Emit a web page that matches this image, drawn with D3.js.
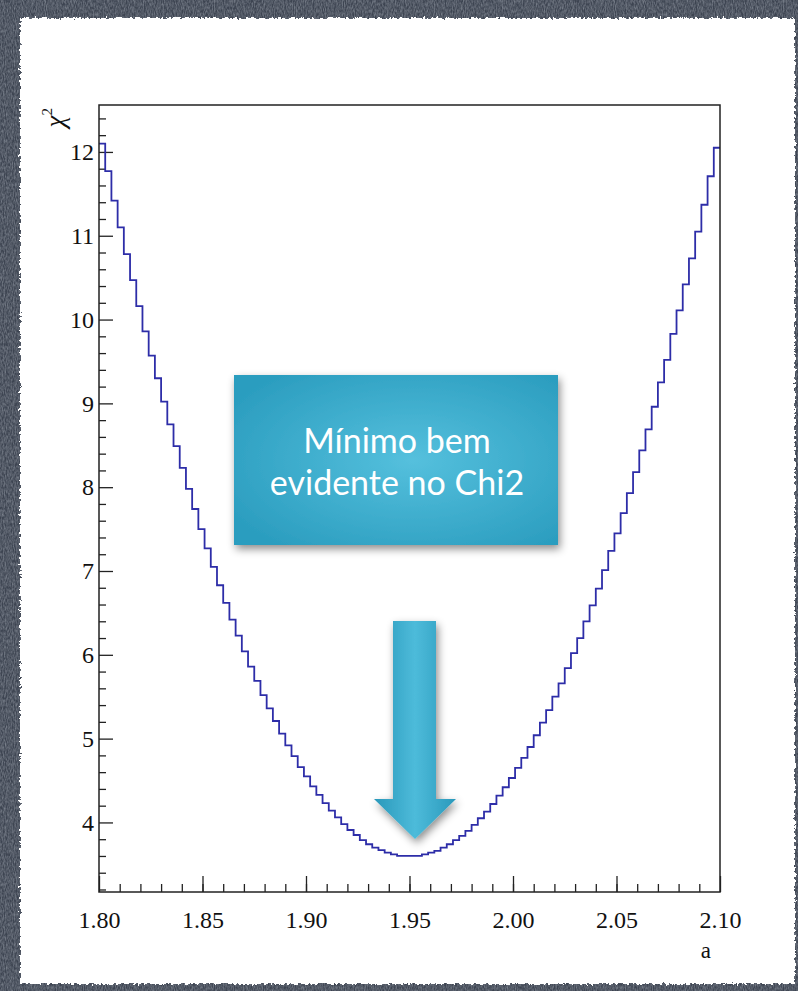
<!DOCTYPE html>
<html>
<head>
<meta charset="UTF-8">
<title>Chi2 vs a</title>
<script src="https://d3js.org/d3.v7.min.js"></script>
<style>
  body { margin: 0; background: #3e4552; }
  svg { display: block; }
</style>
</head>
<body>
<svg id="chart" width="798" height="991"></svg>
<script>
// histogram range and contents (100 bins)
var aRange = [1.80, 2.10];
var chiRange = [3.17, 12.56];
var chi2Values = [
  12.10, 11.77, 11.42, 11.10, 10.78, 10.47, 10.16, 9.86, 9.57, 9.30,
  9.02, 8.75, 8.49, 8.23, 7.98, 7.74, 7.50, 7.27, 7.05, 6.83,
  6.62, 6.42, 6.23, 6.04, 5.86, 5.69, 5.52, 5.36, 5.21, 5.06,
  4.92, 4.79, 4.66, 4.55, 4.43, 4.33, 4.23, 4.14, 4.06, 3.98,
  3.91, 3.85, 3.79, 3.74, 3.70, 3.67, 3.64, 3.62, 3.60, 3.60,
  3.60, 3.60, 3.62, 3.64, 3.66, 3.70, 3.74, 3.79, 3.84, 3.90,
  3.97, 4.05, 4.13, 4.22, 4.32, 4.42, 4.53, 4.65, 4.77, 4.90,
  5.04, 5.19, 5.34, 5.50, 5.66, 5.84, 6.02, 6.20, 6.40, 6.59,
  6.79, 7.01, 7.24, 7.45, 7.69, 7.93, 8.18, 8.44, 8.69, 8.96,
  9.25, 9.52, 9.83, 10.11, 10.42, 10.73, 11.05, 11.37, 11.71, 12.05
];
var xTicks = [1.80, 1.85, 1.90, 1.95, 2.00, 2.05, 2.10];
var yTicks = [4, 5, 6, 7, 8, 9, 10, 11, 12];
var xTitle = "a";
var noteLines = ["Mínimo bem", "evidente no Chi2"];

var svg = d3.select("#chart");
var width = 798, height = 991;
var frame = { left: 99, right: 720, top: 105, bottom: 892 };

var defs = svg.append("defs");

// slate background texture
var grain = defs.append("filter").attr("id", "grain").attr("x", 0).attr("y", 0).attr("width", 1).attr("height", 1);
grain.append("feTurbulence").attr("type", "fractalNoise").attr("baseFrequency", "0.9 0.3").attr("numOctaves", 2).attr("seed", 4).attr("result", "n");
grain.append("feColorMatrix").attr("in", "n").attr("type", "matrix")
  .attr("values", "0 0 0 0 0.30  0 0 0 0 0.33  0 0 0 0 0.38  0 0 0 1.1 -0.3");
grain.append("feComposite").attr("in2", "SourceGraphic").attr("operator", "in");

// ragged paper edge
var rough = defs.append("filter").attr("id", "rough").attr("x", -0.05).attr("y", -0.05).attr("width", 1.1).attr("height", 1.1);
rough.append("feTurbulence").attr("type", "fractalNoise").attr("baseFrequency", 0.35).attr("numOctaves", 2).attr("seed", 7).attr("result", "t");
rough.append("feDisplacementMap").attr("in", "SourceGraphic").attr("in2", "t").attr("scale", 6)
  .attr("xChannelSelector", "R").attr("yChannelSelector", "G");

var shadow = defs.append("filter").attr("id", "shadow").attr("x", -0.2).attr("y", -0.2).attr("width", 1.4).attr("height", 1.4);
shadow.append("feDropShadow").attr("dx", 2).attr("dy", 4).attr("stdDeviation", 4)
  .attr("flood-color", "#000").attr("flood-opacity", 0.45);

var boxGrad = defs.append("radialGradient").attr("id", "boxGrad").attr("cx", "55%").attr("cy", "50%").attr("r", "65%");
boxGrad.append("stop").attr("offset", "0%").attr("stop-color", "#55c0dd");
boxGrad.append("stop").attr("offset", "100%").attr("stop-color", "#2b9dbf");

var arrowGrad = defs.append("linearGradient").attr("id", "arrowGrad").attr("x1", 0).attr("x2", 1).attr("y1", 0).attr("y2", 0);
arrowGrad.append("stop").attr("offset", "0%").attr("stop-color", "#2a98ba");
arrowGrad.append("stop").attr("offset", "50%").attr("stop-color", "#4dbbda");
arrowGrad.append("stop").attr("offset", "100%").attr("stop-color", "#2a99bb");

svg.append("rect").attr("width", width).attr("height", height).attr("fill", "#3d4451");
svg.append("rect").attr("width", width).attr("height", height).attr("fill", "#3d4451").attr("filter", "url(#grain)");
svg.append("rect").attr("x", 20).attr("y", 18).attr("width", 775).attr("height", 966)
  .attr("fill", "#ffffff").attr("filter", "url(#rough)");

// scales
var xScale = d3.scaleLinear().domain(aRange).range([frame.left, frame.right]);
var yScale = d3.scaleLinear().domain(chiRange).range([frame.bottom, frame.top]);
var binWidth = (aRange[1] - aRange[0]) / chi2Values.length;

var labelFont = "'Liberation Serif', 'Times New Roman', serif";

// minor ticks first, then major with labels
var xMinor = d3.range(1.81, 2.095, 0.01);
svg.append("g").attr("transform", "translate(0," + frame.bottom + ")")
  .call(d3.axisBottom(xScale).tickValues(xMinor).tickSize(-8).tickFormat(""))
  .call(g => g.select(".domain").remove());
svg.append("g").attr("transform", "translate(0," + frame.bottom + ")")
  .call(d3.axisBottom(xScale).tickValues(xTicks).tickSize(-16).tickPadding(19).tickFormat(d3.format(".2f")))
  .call(g => g.select(".domain").remove())
  .call(g => g.selectAll("text").style("font-family", labelFont).style("font-size", "24px").attr("fill", "#111"));

var yMinor = d3.range(3.2, 12.5, 0.2).filter(v => Math.abs(v - Math.round(v)) > 0.05);
svg.append("g").attr("transform", "translate(" + frame.left + ",0)")
  .call(d3.axisLeft(yScale).tickValues(yMinor).tickSize(-7).tickFormat(""))
  .call(g => g.select(".domain").remove());
svg.append("g").attr("transform", "translate(" + frame.left + ",0)")
  .call(d3.axisLeft(yScale).tickValues(yTicks).tickSize(-14).tickPadding(5).tickFormat(d3.format("d")))
  .call(g => g.select(".domain").remove())
  .call(g => g.selectAll("text").style("font-family", labelFont).style("font-size", "24px").attr("fill", "#111"));

svg.selectAll(".tick line").attr("stroke", "#222").attr("stroke-width", 1.3);

// histogram as a step line
var steps = [];
chi2Values.forEach(function(v, i) {
  var lo = aRange[0] + i * binWidth;
  steps.push([lo, v]);
  steps.push([lo + binWidth, v]);
});
var stepLine = d3.line().x(d => xScale(d[0])).y(d => yScale(d[1]));
svg.append("path").datum(steps).attr("d", stepLine)
  .attr("fill", "none").attr("stroke", "#2d2da8").attr("stroke-width", 1.8);

// frame
svg.append("rect").attr("x", frame.left).attr("y", frame.top)
  .attr("width", frame.right - frame.left).attr("height", frame.bottom - frame.top)
  .attr("fill", "none").attr("stroke", "#222").attr("stroke-width", 1.5);

// axis titles
var yt = svg.append("text").attr("transform", "translate(64,108) rotate(-90)")
  .attr("text-anchor", "end").style("font-family", labelFont).style("font-size", "27px")
  .style("font-style", "italic").attr("fill", "#111");
yt.append("tspan").text("χ");
yt.append("tspan").attr("dy", -12).style("font-size", "15px").style("font-style", "normal").text("2");

svg.append("text").attr("x", 711).attr("y", 958).attr("text-anchor", "end")
  .style("font-family", labelFont).style("font-size", "23px").attr("fill", "#111").text(xTitle);

// annotation box and arrow
svg.append("rect").attr("x", 234).attr("y", 375).attr("width", 324).attr("height", 170)
  .attr("fill", "url(#boxGrad)").attr("filter", "url(#shadow)");
svg.append("g").selectAll("text").data(noteLines).join("text")
  .attr("x", 397).attr("y", (d, i) => 453 + i * 42)
  .attr("text-anchor", "middle").attr("fill", "#ffffff")
  .style("font-family", "Lato, 'Open Sans', sans-serif").style("font-size", "34px")
  .text(d => d);

var arrowPts = [[393, 621], [436, 621], [436, 799], [456, 799], [415, 839], [374, 799], [393, 799]];
svg.append("path").attr("d", d3.line()(arrowPts) + "Z")
  .attr("fill", "url(#arrowGrad)").attr("filter", "url(#shadow)");
</script>
</body>
</html>
